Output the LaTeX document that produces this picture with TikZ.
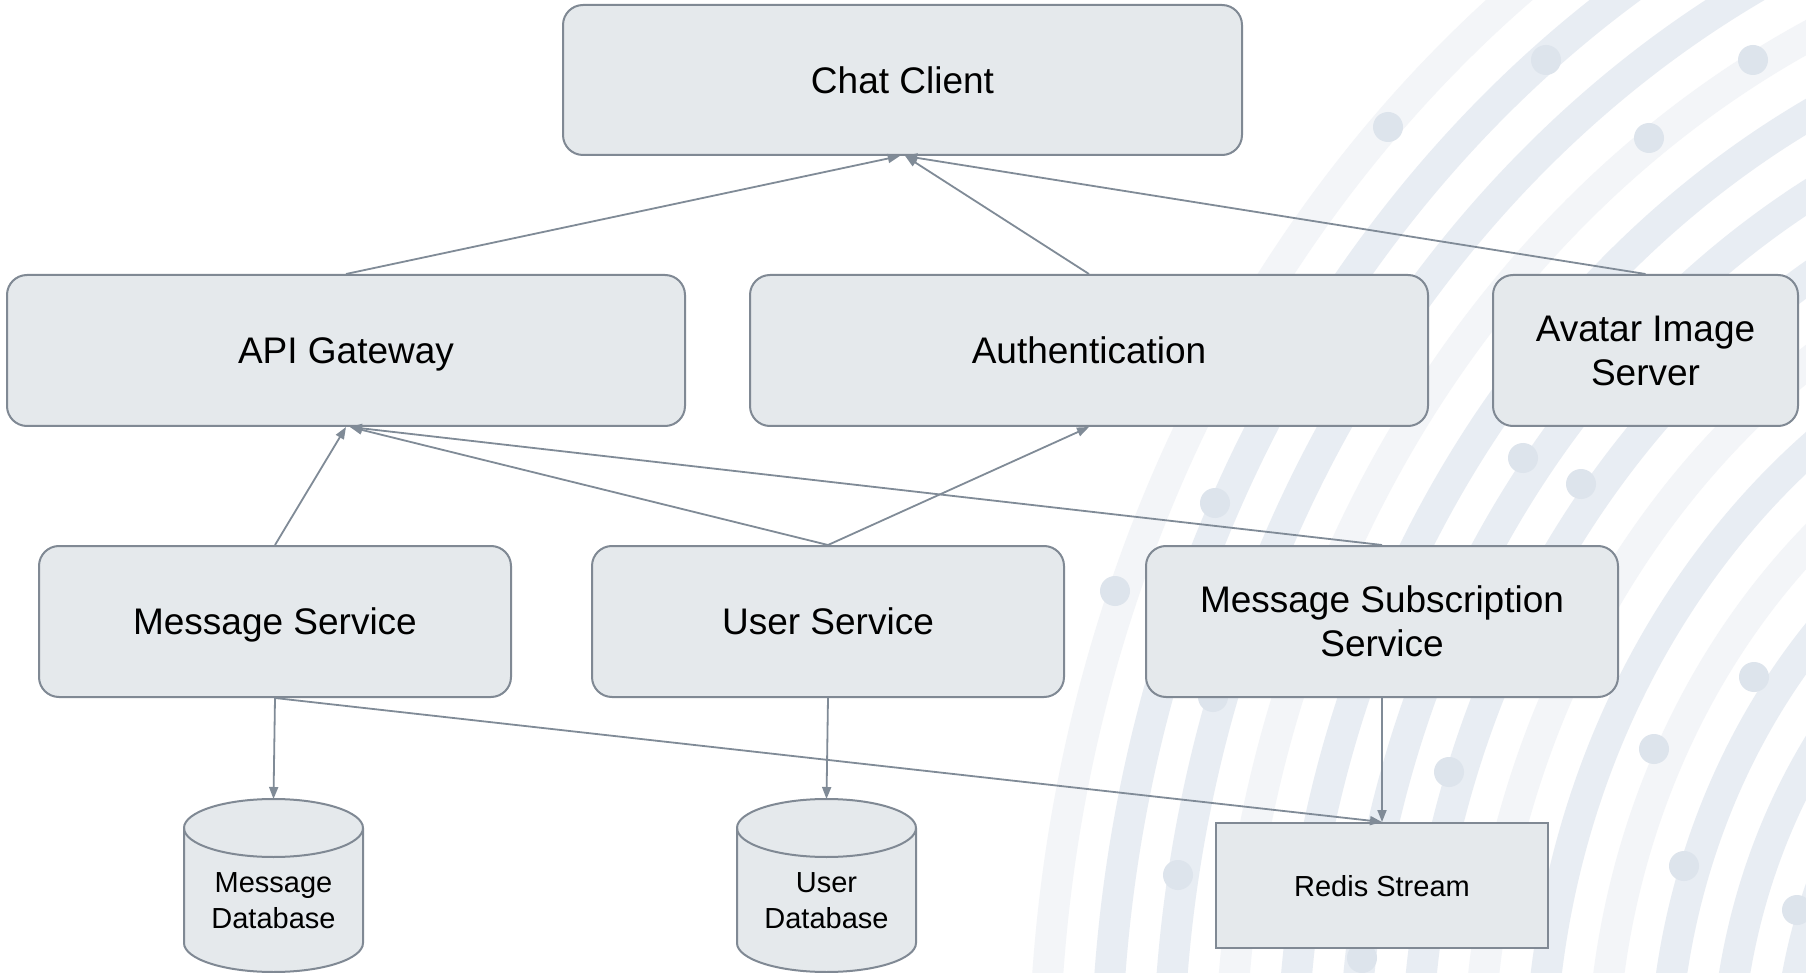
\documentclass[tikz,border=0pt]{standalone}
\usepackage{fontspec}
\setmainfont{Liberation Sans}
\usetikzlibrary{arrows.meta,calc}
\definecolor{nodefill}{RGB}{229,233,236}
\definecolor{nodeline}{RGB}{128,137,148}
\definecolor{arrowc}{RGB}{128,139,151}
\definecolor{bandD}{RGB}{232,237,243}
\definecolor{bandL}{RGB}{243,245,248}
\definecolor{dotc}{RGB}{221,228,236}
\newcommand\dbcyl[1]{%
  \path[draw=nodeline, fill=nodefill, line width=1pt] (#1-89.5,828) -- (#1-89.5,943)
    arc[start angle=180,end angle=360,x radius=44.75pt,y radius=14.5pt] -- (#1+89.5,828)
    arc[start angle=0,end angle=180,x radius=44.75pt,y radius=14.5pt] -- cycle;
  \draw[draw=nodeline, line width=1pt] (#1+89.5,828)
    arc[start angle=0,end angle=-180,x radius=44.75pt,y radius=14.5pt];
}
\begin{document}
\begin{tikzpicture}[x=0.5pt,y=-0.5pt,
  box/.style={draw=nodeline, fill=nodefill, line width=1pt, rounded corners=10pt,
    align=center, font=\fontsize{18.5}{22}\selectfont, inner sep=0pt, text depth=0pt},
  rbox/.style={draw=nodeline, fill=nodefill, line width=1pt,
    align=center, font=\fontsize{14.5}{18}\selectfont, inner sep=0pt, text depth=0pt},
  small/.style={align=center, font=\fontsize{14.5}{18}\selectfont, inner sep=0pt, text depth=0pt},
  conn/.style={draw=arrowc, line width=0.9pt, -{Triangle[length=6pt,width=4.5pt]}},
  band/.style={line width=15.5pt},
  bgdot/.style={fill=dotc, draw=none}]
\useasboundingbox (0,0) rectangle (1806,973);
\fill[white] (0,0) rectangle (1806,973);
% decorative background
\begin{scope}
\clip (0,0) rectangle (1806,973);
\foreach \k/\c in {0/bandL,1/bandD,2/bandD,3/bandL,4/bandD,5/bandD,6/bandD,7/bandL,8/bandD,9/bandL,10/bandD,11/bandD,12/bandD}{
  \pgfmathsetmacro\rx{611*(0.987-0.0507*\k)}
  \pgfmathsetmacro\ry{696.5*(0.987-0.0507*\k)}
  \draw[band,draw=\c] (2250,1085) ellipse [x radius=\rx pt, y radius=\ry pt];
}
\foreach \x/\y in {1388/127,1546/60,1649/138,1753/60,1215/503,1115/591,1213/697,1178/875,1449/772,1523/458,1581/484,1654/749,1684/866,1754/677,1797/910,1362/958}{
  \fill[bgdot] (\x,\y) circle[radius=7.5pt];
}
\end{scope}
% nodes
\node[box, minimum width=339.5pt, minimum height=75pt] (chat) at (902.5,80) {Chat Client};
\node[box, minimum width=339pt, minimum height=75.5pt] (api) at (346,350.5) {API Gateway};
\node[box, minimum width=339pt, minimum height=75.5pt] (auth) at (1089,350.5) {Authentication};
\node[box, minimum width=152.5pt, minimum height=75.5pt] (avatar) at (1645.5,350.5) {Avatar Image\\Server};
\node[box, minimum width=236pt, minimum height=75.5pt] (ms) at (275,621.5) {Message Service};
\node[box, minimum width=236pt, minimum height=75.5pt] (us) at (828,621.5) {User Service};
\node[box, minimum width=236pt, minimum height=75.5pt] (mss) at (1382,621.5) {Message Subscription\\Service};
\node[rbox, minimum width=166pt, minimum height=62.5pt] (redis) at (1382,885.5) {Redis Stream};
\dbcyl{273.5}
\dbcyl{826.5}
\node[small] (mdb) at (273.5,901) {Message\\Database};
\node[small] (udb) at (826.5,901) {User\\Database};
\coordinate (mdbtop) at (273.5,799);
\coordinate (udbtop) at (826.5,799);
% connectors
\draw[conn] (api.north) -- (chat.268);
\draw[conn] (auth.north) -- (chat.272);
\draw[conn] (avatar.north) -- (chat.272);
\draw[conn] (ms.north) -- (api.south);
\draw[conn] (us.north) -- (api.273);
\draw[conn] (mss.north) -- (api.273);
\draw[conn] (us.north) -- (auth.south);
\draw[conn] (ms.south) -- (mdbtop);
\draw[conn] (ms.south) -- (redis.north);
\draw[conn] (us.south) -- (udbtop);
\draw[conn] (mss.south) -- (redis.north);
\end{tikzpicture}
\end{document}
